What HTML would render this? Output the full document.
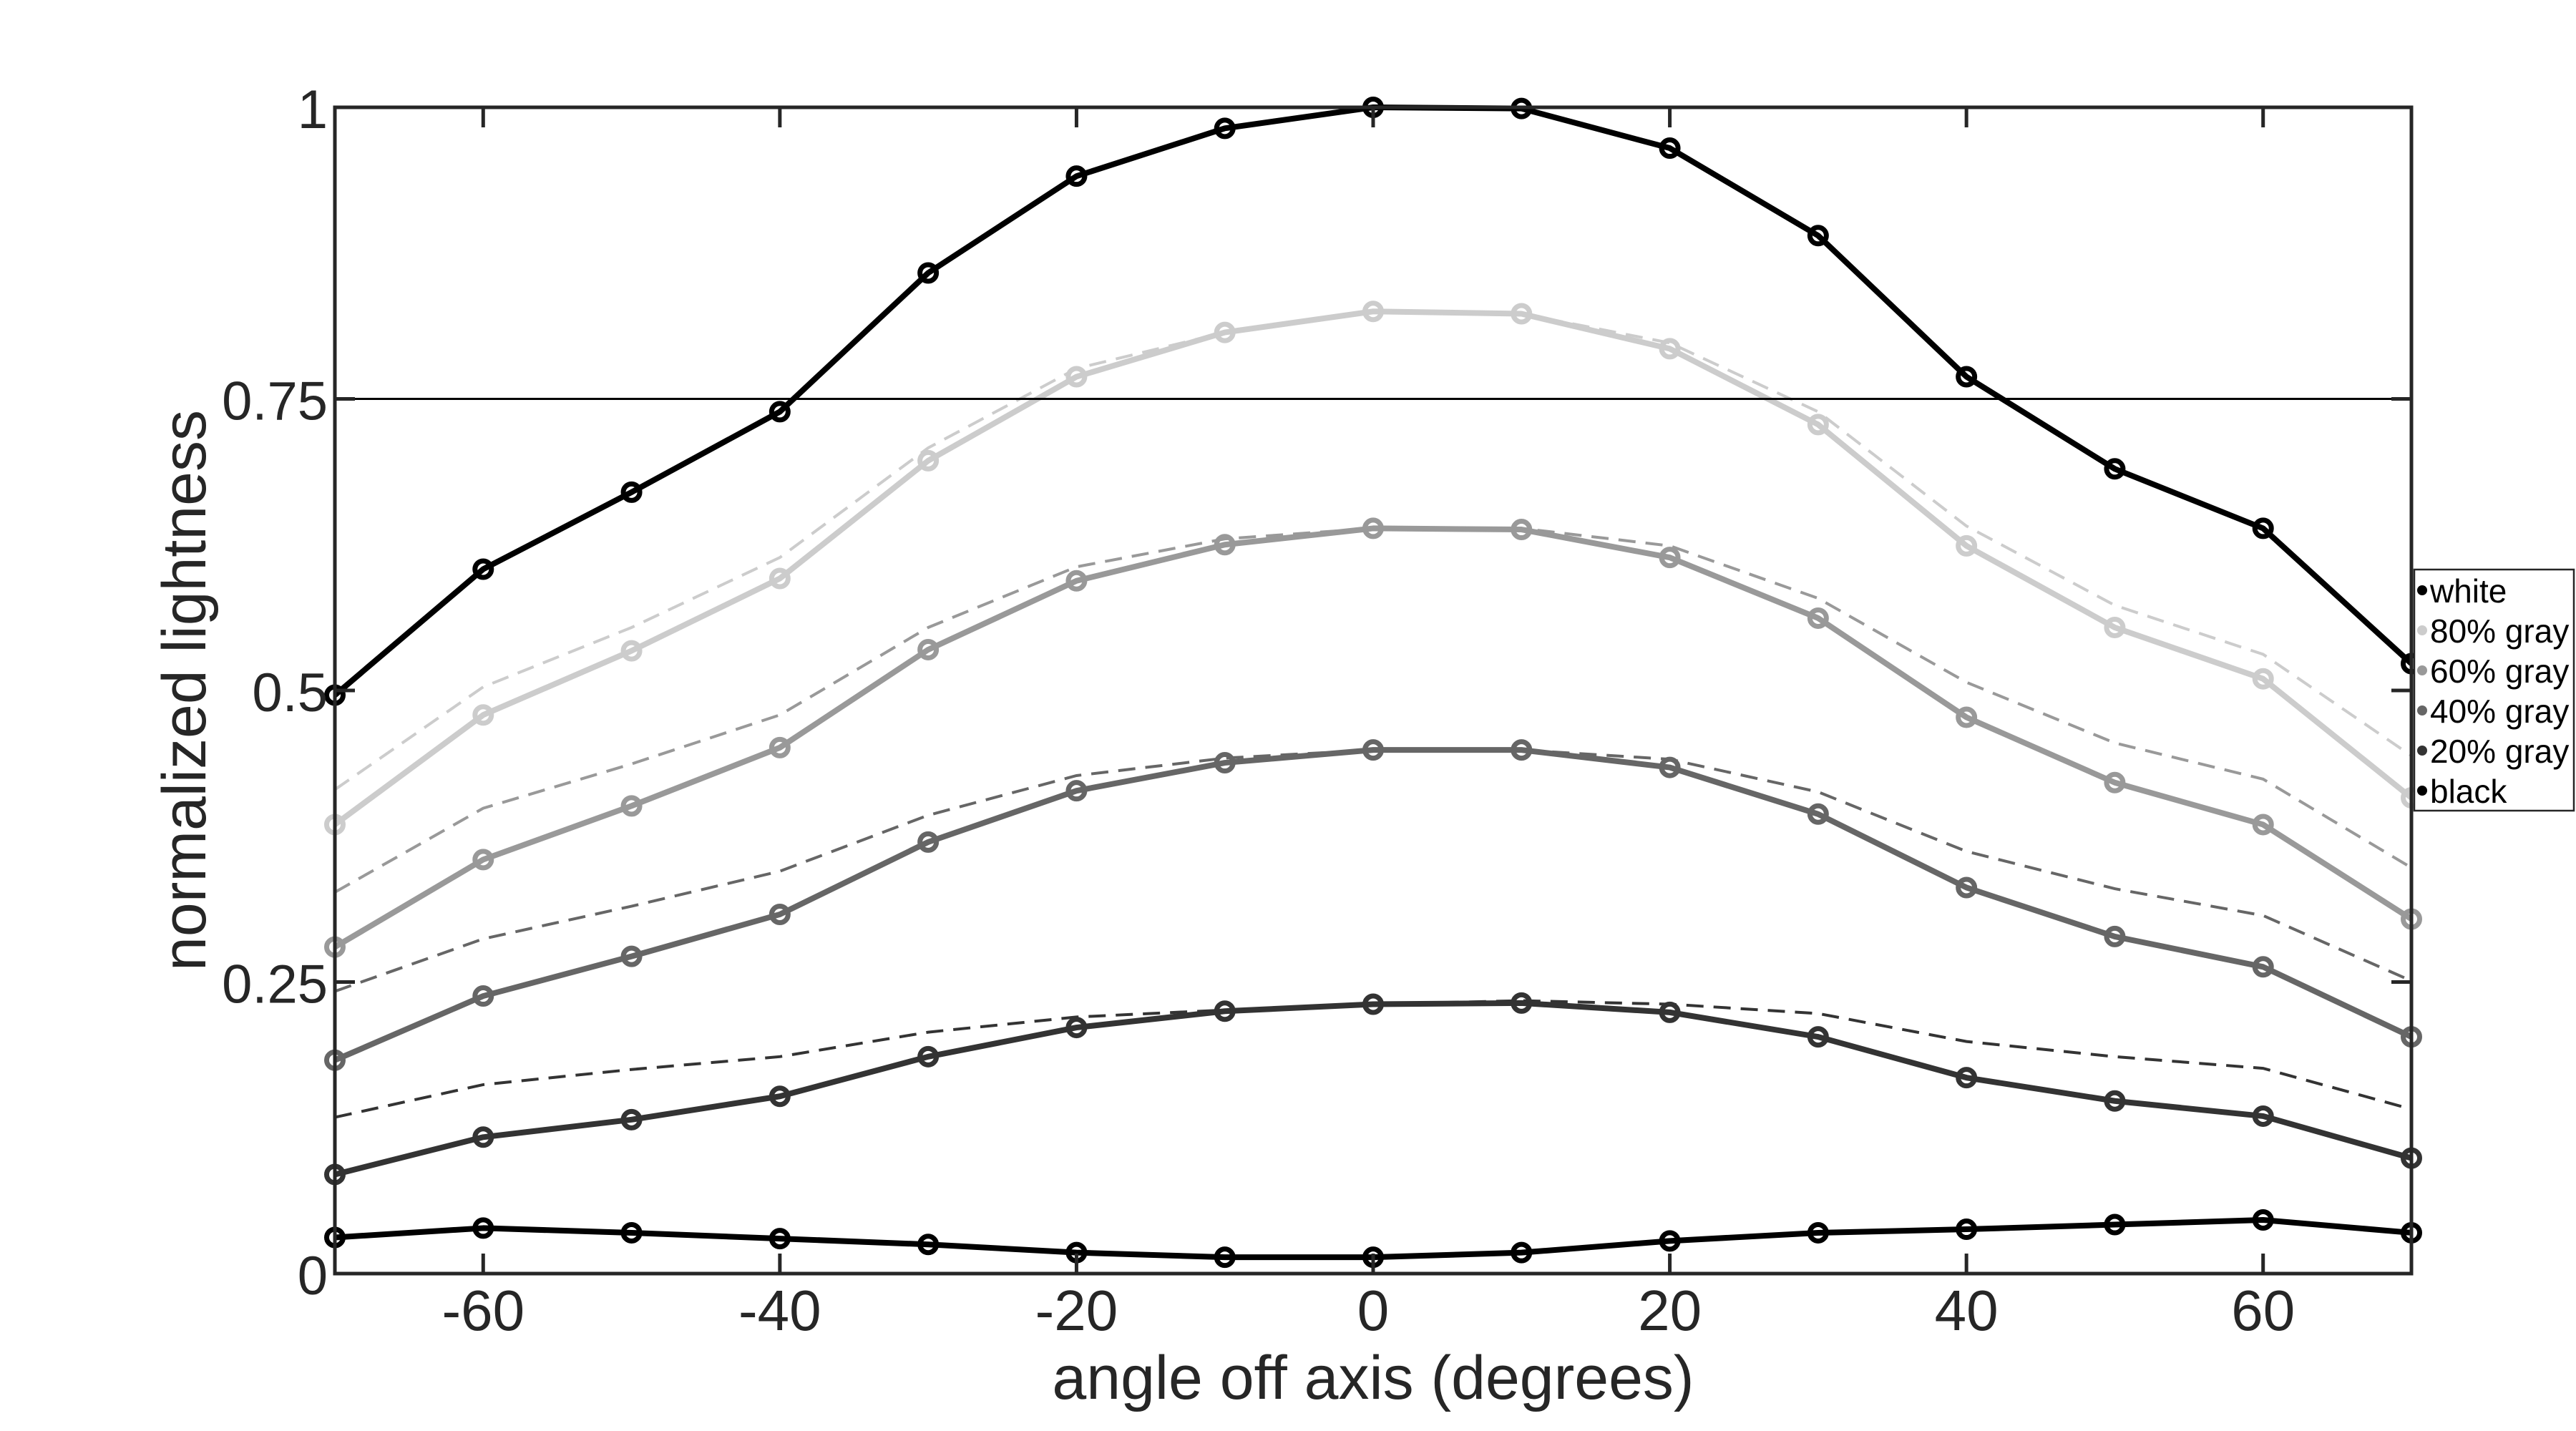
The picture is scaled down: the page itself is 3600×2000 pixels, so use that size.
<!DOCTYPE html>
<html><head><meta charset="utf-8"><style>
html,body{margin:0;padding:0;background:#fff;width:3600px;height:2000px;overflow:hidden}
svg text{font-family:"Liberation Sans",Arial,sans-serif;fill:#262626}
</style></head><body>
<svg id="s" width="3600" height="2000" viewBox="0 0 3600 2000" xmlns="http://www.w3.org/2000/svg">
<rect width="3600" height="2000" fill="#fff"/>
<g id="plot"></g>
<rect x="468" y="150" width="2902" height="1630" fill="none" stroke="#262626" stroke-width="5"/>
<line x1="468" y1="557.5" x2="3370" y2="557.5" stroke="#000" stroke-width="3"/>
<g id="ticks" stroke="#262626" stroke-width="5"></g>
<g font-size="80" text-anchor="middle" id="xl"></g>
<g font-size="76" text-anchor="end" id="yl"></g>
<text x="1919" y="1955" font-size="86" text-anchor="middle">angle off axis (degrees)</text>
<text transform="translate(287,965) rotate(-90)" font-size="86" text-anchor="middle">normalized lightness</text>
<g id="legend"></g>
</svg>
<script>
var X=a=>468+(a+70)*2902/140, Y=v=>1780-v*1630;
var ang=[-70,-60,-50,-40,-30,-20,-10,0,10,20,30,40,50,60,70];
var solid=[
["#000",[0.496,0.604,0.670,0.739,0.858,0.941,0.982,1,0.999,0.965,0.890,0.769,0.690,0.639,0.523]],
["#ccc",[0.385,0.479,0.534,0.596,0.697,0.769,0.807,0.825,0.823,0.793,0.728,0.624,0.554,0.510,0.408]],
["#999",[0.280,0.355,0.401,0.451,0.535,0.594,0.625,0.639,0.638,0.614,0.562,0.477,0.421,0.385,0.304]],
["#666",[0.183,0.238,0.272,0.308,0.370,0.414,0.438,0.449,0.449,0.434,0.394,0.331,0.289,0.263,0.203]],
["#333",[0.085,0.117,0.132,0.152,0.186,0.211,0.225,0.231,0.232,0.224,0.203,0.168,0.148,0.135,0.099]],
["#000",[0.031,0.039,0.035,0.030,0.025,0.018,0.014,0.014,0.018,0.028,0.035,0.038,0.042,0.046,0.035]]];
var dashed=[
["#ccc",[0.415,0.503,0.554,0.614,0.708,0.776,0.807,0.825,0.823,0.798,0.739,0.641,0.573,0.531,0.444]],
["#999",[0.327,0.399,0.437,0.479,0.554,0.606,0.630,0.639,0.639,0.624,0.579,0.507,0.455,0.424,0.348]],
["#666",[0.242,0.287,0.315,0.345,0.393,0.427,0.442,0.449,0.449,0.441,0.413,0.362,0.330,0.307,0.251]],
["#333",[0.134,0.162,0.175,0.186,0.207,0.220,0.226,0.231,0.234,0.231,0.223,0.199,0.186,0.176,0.141]]];
var h="";
dashed.forEach(d=>{h+='<polyline fill="none" stroke="'+d[0]+'" stroke-width="4" stroke-dasharray="24,14" points="'+ang.map((a,i)=>X(a)+','+Y(d[1][i])).join(' ')+'"/>';});
solid.slice().reverse().forEach(d=>{
h+='<polyline fill="none" stroke="'+d[0]+'" stroke-width="8" stroke-linejoin="round" points="'+ang.map((a,i)=>X(a)+','+Y(d[1][i])).join(' ')+'"/>';
ang.forEach((a,i)=>{h+='<circle cx="'+X(a)+'" cy="'+Y(d[1][i])+'" r="11.5" fill="none" stroke="'+d[0]+'" stroke-width="7"/>';});
});
document.getElementById('plot').innerHTML=h;
var t="",xl="",yl="";
[-60,-40,-20,0,20,40,60].forEach(a=>{var x=X(a);t+='<line x1="'+x+'" y1="1780" x2="'+x+'" y2="1752"/><line x1="'+x+'" y1="150" x2="'+x+'" y2="178"/>';xl+='<text x="'+x+'" y="1859">'+a+'</text>';});
[[0,"0"],[0.25,"0.25"],[0.5,"0.5"],[0.75,"0.75"],[1,"1"]].forEach(p=>{var y=Y(p[0]);t+='<line x1="468" y1="'+y+'" x2="496" y2="'+y+'"/><line x1="3370" y1="'+y+'" x2="3342" y2="'+y+'"/>';yl+='<text x="458" y="'+(y+29)+'">'+p[1]+'</text>';});
document.getElementById('ticks').innerHTML=t;
document.getElementById('xl').innerHTML=xl;
document.getElementById('yl').innerHTML=yl;
var L='<rect x="3374" y="796" width="223" height="337" fill="#fff" stroke="#262626" stroke-width="2.5"/>';
[["#000","white"],["#ccc","80% gray"],["#999","60% gray"],["#666","40% gray"],["#333","20% gray"],["#000","black"]].forEach((e,i)=>{var cy=825+i*56;
L+='<circle cx="3385" cy="'+cy+'" r="7" fill="'+e[0]+'"/><text x="3396" y="'+(cy+17)+'" font-size="46" style="fill:#000">'+e[1]+'</text>';});
document.getElementById('legend').innerHTML=L;
</script>
</body></html>
